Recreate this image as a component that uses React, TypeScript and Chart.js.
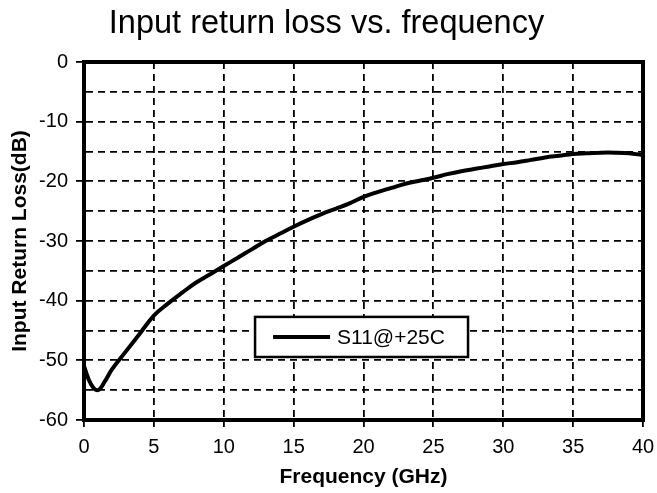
import React, { useEffect, useRef } from "react";
import { Chart, registerables } from "chart.js";

Chart.register(...registerables);

const frequencyGHz = [0, 0.5, 1, 1.5, 2, 3, 4, 5, 6, 7, 8, 9, 10, 11, 12, 13, 14, 15, 16, 17, 18, 19, 20, 21, 22, 23, 24, 25, 26, 27, 28, 29, 30, 31, 32, 33, 34, 35, 36, 37, 38, 39, 40];
const s11dB = [-51, -54, -55, -53.5, -51.5, -48.5, -45.5, -42.5, -40.5, -38.7, -37, -35.6, -34.2, -32.8, -31.4, -30, -28.8, -27.6, -26.5, -25.5, -24.6, -23.7, -22.6, -21.8, -21.1, -20.4, -19.9, -19.4, -18.8, -18.3, -17.9, -17.5, -17.1, -16.8, -16.4, -16.0, -15.7, -15.4, -15.3, -15.2, -15.2, -15.3, -15.6];
const seriesLabel = "S11@+25C";
const chartTitle = "Input return loss vs. frequency";
const xTitle = "Frequency (GHz)";
const yTitle = "Input Return Loss(dB)";

const FONT = "'Liberation Sans', Arial, sans-serif";

const decorPlugin = {
  id: "decor",
  afterDraw(chart: any) {
    const { ctx, chartArea: a } = chart;
    ctx.save();
    // frame
    ctx.strokeStyle = "#000";
    ctx.lineWidth = 4;
    ctx.setLineDash([]);
    ctx.strokeRect(a.left, a.top, a.right - a.left, a.bottom - a.top);
    // title
    ctx.fillStyle = "#000";
    ctx.font = `32.5px ${FONT}`;
    ctx.textAlign = "center";
    ctx.textBaseline = "alphabetic";
    ctx.fillText(chartTitle, 326.5, 33);
    // axis titles
    ctx.font = `bold 21px ${FONT}`;
    ctx.textBaseline = "middle";
    ctx.fillText(xTitle, (a.left + a.right) / 2, 477);
    ctx.save();
    ctx.translate(20, (a.top + a.bottom) / 2);
    ctx.rotate(-Math.PI / 2);
    ctx.fillText(yTitle, 0, 0);
    ctx.restore();
    // legend box
    const w = a.right - a.left;
    const h = a.bottom - a.top;
    const bx = a.left + w * 0.306;
    const by = a.top + h * 0.712;
    const bw = w * 0.381;
    const bh = h * 0.112;
    ctx.fillStyle = "#fff";
    ctx.fillRect(bx, by, bw, bh);
    ctx.lineWidth = 2.5;
    ctx.strokeRect(bx, by, bw, bh);
    ctx.lineWidth = 4;
    ctx.beginPath();
    ctx.moveTo(bx + 18, by + bh / 2);
    ctx.lineTo(bx + 75, by + bh / 2);
    ctx.stroke();
    ctx.fillStyle = "#000";
    ctx.font = `21px ${FONT}`;
    ctx.textAlign = "left";
    ctx.fillText(seriesLabel, bx + 82, by + bh / 2 + 1);
    ctx.restore();
  },
};

export default function App() {
  const ref = useRef<HTMLCanvasElement>(null);
  useEffect(() => {
    document.body.style.margin = "0";
    const canvas = ref.current!;
    const chart = new Chart(canvas, {
      type: "line",
      data: {
        datasets: [
          {
            label: seriesLabel,
            data: frequencyGHz.map((x, i) => ({ x, y: s11dB[i] })),
            borderColor: "#000",
            borderWidth: 4,
            pointRadius: 0,
            tension: 0.4,
            fill: false,
          },
        ],
      },
      options: {
        animation: false,
        responsive: false,
        layout: { padding: { top: 62, right: 14, left: 0, bottom: 0 } },
        plugins: { legend: { display: false }, title: { display: false }, tooltip: { enabled: false } },
        scales: {
          x: {
            type: "linear",
            min: 0,
            max: 40,
            ticks: { stepSize: 5, color: "#000", font: { family: FONT, size: 20 }, padding: 8, maxRotation: 0 },
            grid: { color: "#000", lineWidth: 1.8, tickLength: 7, tickColor: "#000" },
            border: { display: true, color: "#000", width: 4, dash: [7, 5] },
            title: { display: false },
            afterFit(scale: any) {
              scale.height = 73;
              scale.paddingRight = 0;
              scale.paddingLeft = 0;
            },
          },
          y: {
            min: -60,
            max: 0,
            ticks: {
              stepSize: 5,
              color: "#000",
              font: { family: FONT, size: 20 },
              padding: 8,
              callback: (v: any) => (Number(v) % 10 === 0 ? String(v) : ""),
            },
            grid: {
              color: "#000",
              lineWidth: 1.8,
              tickLength: 8,
              tickColor: (c: any) => (c.tick && c.tick.value % 10 === 0 ? "#000" : "rgba(0,0,0,0)"),
            },
            border: { display: true, color: "#000", width: 4, dash: [7, 5] },
            title: { display: false },
            afterFit(scale: any) {
              scale.width = 84;
              scale.paddingTop = 0;
              scale.paddingBottom = 0;
            },
          },
        },
      },
      plugins: [decorPlugin],
    });
    return () => chart.destroy();
  }, []);
  return (
    <div style={{ width: 657, height: 493 }}>
      <canvas ref={ref} width={657} height={493} style={{ display: "block" }} />
    </div>
  );
}
